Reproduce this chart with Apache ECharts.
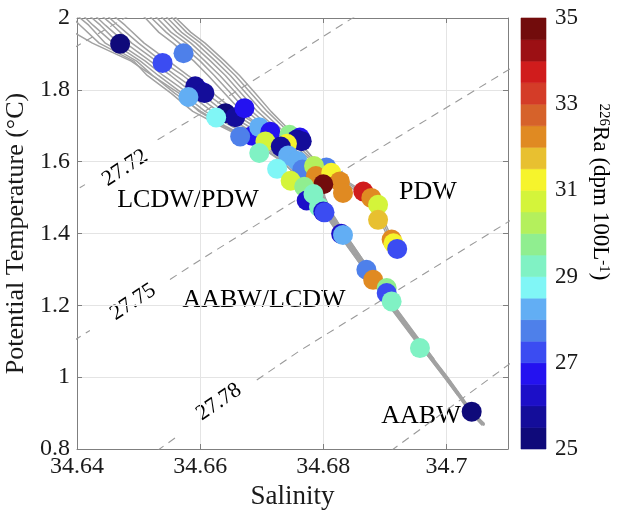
<!DOCTYPE html>
<html>
<head>
<meta charset="utf-8">
<script src="https://cdn.jsdelivr.net/npm/echarts@6/dist/echarts.min.js"></script>
<style>
  html, body { margin: 0; padding: 0; background: #fff; }
  #chart { width: 619px; height: 517px; }
</style>
</head>
<body>
<div id="chart"></div>
<script>
// ---- Bottle samples: salinity, potential temperature (°C), 226Ra (dpm 100L-1) ----
const salinity = [
  34.6470, 34.6573, 34.6539, 34.6600, 34.6592, 34.6607, 34.6581, 34.6641, 34.6657, 34.6626,
  34.6672, 34.6685, 34.6665, 34.6696, 34.6714, 34.6706, 34.6696, 34.6745, 34.6762, 34.6757,
  34.6765, 34.6741, 34.6731, 34.6743, 34.6758, 34.6725, 34.6766, 34.6747, 34.6805, 34.6785,
  34.6788, 34.6813, 34.6827, 34.6800, 34.6769, 34.6773, 34.6784, 34.6793, 34.6800, 34.6802,
  34.6832, 34.6865, 34.6878, 34.6889, 34.6889, 34.6911, 34.6914, 34.6920, 34.6829, 34.6832,
  34.6870, 34.6881, 34.6903, 34.6903, 34.6911, 34.6957, 34.7041
];
const theta = [
  1.928, 1.902, 1.875, 1.797, 1.810, 1.791, 1.780, 1.735, 1.724, 1.723,
  1.749, 1.672, 1.670, 1.696, 1.683, 1.656, 1.624, 1.675, 1.667, 1.662,
  1.657, 1.650, 1.642, 1.617, 1.602, 1.580, 1.578, 1.547, 1.584, 1.588,
  1.560, 1.569, 1.545, 1.537, 1.530, 1.492, 1.510, 1.474, 1.461, 1.459,
  1.513, 1.517, 1.499, 1.480, 1.438, 1.383, 1.373, 1.357, 1.399, 1.396,
  1.299, 1.271, 1.248, 1.234, 1.211, 1.081, 0.904
];
const radium = [
  25.3, 27.6, 27.4, 26.8, 25.5, 25.8, 28.0, 25.4, 25.6, 28.6,
  26.8, 26.7, 27.8, 28.3, 26.8, 30.6, 29.4, 29.6, 26.6, 25.7,
  25.9, 31.2, 25.5, 28.4, 28.2, 28.9, 27.8, 30.7, 27.6, 30.2,
  32.0, 31.3, 32.1, 34.8, 29.6, 26.3, 29.0, 29.3, 26.0, 27.3,
  32.3, 33.8, 32.3, 30.6, 31.8, 32.3, 31.0, 27.4, 26.0, 28.2,
  27.8, 32.3, 29.7, 27.1, 29.4, 29.3, 25.2
];

// ---- CTD profiles [salinity, theta] ----
const profileA0 = [[34.6380,1.975],[34.6425,1.93],[34.6488,1.88],[34.6522,1.84],[34.6566,1.79],[34.6598,1.74],[34.6637,1.70],[34.6692,1.65],[34.6734,1.60],[34.6763,1.55],[34.6787,1.50],[34.6804,1.45],[34.6824,1.40],[34.6866,1.30],[34.6906,1.20],[34.6950,1.10]];
const profileA1 = [[34.6374,2.03],[34.6405,1.98],[34.6436,1.93],[34.6492,1.88],[34.6514,1.84],[34.6553,1.79],[34.6588,1.74],[34.6632,1.70],[34.6690,1.65],[34.6733,1.60],[34.6764,1.55],[34.6788,1.50],[34.6805,1.45],[34.6825,1.40],[34.6866,1.30],[34.6907,1.20],[34.6951,1.10],[34.6997,1.00],[34.7039,0.90],[34.7058,0.866]];
const profileA2 = [[34.6384,2.03],[34.6419,1.98],[34.6446,1.93],[34.6497,1.88],[34.6523,1.84],[34.6559,1.79],[34.6601,1.74],[34.6640,1.70],[34.6697,1.65],[34.6738,1.60],[34.6767,1.55],[34.6790,1.50],[34.6807,1.45],[34.6826,1.40],[34.6868,1.30],[34.6908,1.20],[34.6952,1.10],[34.6996,1.00],[34.7018,0.95]];
const profileA3 = [[34.6396,2.03],[34.6426,1.98],[34.6459,1.93],[34.6503,1.88],[34.6532,1.84],[34.6571,1.79],[34.6608,1.74],[34.6650,1.70],[34.6702,1.65],[34.6742,1.60],[34.6770,1.55],[34.6792,1.50],[34.6808,1.45],[34.6828,1.40],[34.6869,1.30],[34.6910,1.20],[34.6953,1.10],[34.6999,1.00],[34.7040,0.90],[34.7059,0.866]];
const profileA4 = [[34.6404,2.03],[34.6438,1.98],[34.6467,1.93],[34.6511,1.88],[34.6540,1.84],[34.6581,1.79],[34.6619,1.74],[34.6658,1.70],[34.6709,1.65],[34.6746,1.60],[34.6773,1.55],[34.6794,1.50],[34.6810,1.45],[34.6829,1.40],[34.6870,1.30],[34.6911,1.20],[34.6954,1.10],[34.7000,1.00],[34.7042,0.90],[34.7061,0.866]];
const profileA5 = [[34.6415,2.03],[34.6446,1.98],[34.6479,1.93],[34.6519,1.88],[34.6552,1.84],[34.6589,1.79],[34.6630,1.74],[34.6668,1.70],[34.6716,1.65],[34.6750,1.60],[34.6776,1.55],[34.6796,1.50],[34.6812,1.45],[34.6831,1.40],[34.6872,1.30],[34.6912,1.20],[34.6955,1.10],[34.7001,1.00],[34.7043,0.90],[34.7062,0.866]];
const profileA6 = [[34.6424,2.03],[34.6458,1.98],[34.6489,1.93],[34.6529,1.88],[34.6560,1.84],[34.6601,1.79],[34.6638,1.74],[34.6677,1.70],[34.6722,1.65],[34.6755,1.60],[34.6779,1.55],[34.6798,1.50],[34.6813,1.45],[34.6832,1.40],[34.6873,1.30],[34.6913,1.20],[34.6956,1.10],[34.7000,1.00],[34.7030,0.93]];
const profileA7 = [[34.6434,2.03],[34.6466,1.98],[34.6500,1.93],[34.6537,1.88],[34.6572,1.84],[34.6609,1.79],[34.6650,1.74],[34.6686,1.70],[34.6729,1.65],[34.6759,1.60],[34.6782,1.55],[34.6800,1.50],[34.6815,1.45],[34.6834,1.40],[34.6874,1.30],[34.6914,1.20],[34.6957,1.10],[34.7002,1.00],[34.7044,0.90],[34.7062,0.87]];
const profileA8 = [[34.6443,2.03],[34.6478,1.98],[34.6509,1.93],[34.6549,1.88],[34.6580,1.84],[34.6621,1.79],[34.6658,1.74],[34.6695,1.70],[34.6735,1.65],[34.6763,1.60],[34.6785,1.55],[34.6802,1.50],[34.6817,1.45],[34.6835,1.40],[34.6875,1.30],[34.6914,1.20],[34.6956,1.10],[34.6979,1.05]];
const profileB1 = [[34.6498,2.02],[34.6511,2.0],[34.6533,1.96],[34.6556,1.93],[34.6590,1.88],[34.6613,1.84],[34.6640,1.79],[34.6667,1.74],[34.6696,1.70],[34.6734,1.65],[34.6768,1.60],[34.6784,1.55],[34.6797,1.50],[34.6812,1.45],[34.6831,1.40],[34.6871,1.30],[34.6911,1.20],[34.6933,1.15]];
const profileB2 = [[34.6509,2.02],[34.6521,2.0],[34.6545,1.96],[34.6566,1.93],[34.6600,1.88],[34.6623,1.84],[34.6650,1.79],[34.6676,1.74],[34.6704,1.70],[34.6739,1.65],[34.6772,1.60],[34.6787,1.55],[34.6799,1.50],[34.6813,1.45],[34.6833,1.40],[34.6873,1.30],[34.6913,1.20],[34.6956,1.10],[34.7001,1.00],[34.7043,0.90],[34.7061,0.866]];
const profileB3 = [[34.6518,2.02],[34.6530,2.0],[34.6553,1.96],[34.6577,1.93],[34.6608,1.88],[34.6632,1.84],[34.6659,1.79],[34.6684,1.74],[34.6711,1.70],[34.6744,1.65],[34.6776,1.60],[34.6789,1.55],[34.6800,1.50],[34.6814,1.45],[34.6833,1.40],[34.6873,1.30],[34.6892,1.25]];
const profileB4 = [[34.6527,2.02],[34.6539,2.0],[34.6562,1.96],[34.6585,1.93],[34.6617,1.88],[34.6641,1.84],[34.6667,1.79],[34.6693,1.74],[34.6719,1.70],[34.6750,1.65],[34.6782,1.60],[34.6806,1.57],[34.6844,1.53],[34.6869,1.50],[34.6889,1.45],[34.6902,1.40],[34.6916,1.36]];
const profileB5 = [[34.6535,2.02],[34.6547,2.0],[34.6570,1.96],[34.6593,1.93],[34.6625,1.88],[34.6649,1.84],[34.6675,1.79],[34.6701,1.74],[34.6726,1.70],[34.6755,1.65],[34.6786,1.60],[34.6811,1.57],[34.6849,1.53],[34.6873,1.50],[34.6892,1.45],[34.6905,1.40],[34.6921,1.35]];
const profileB6 = [[34.6543,2.02],[34.6555,2.0],[34.6578,1.96],[34.6601,1.93],[34.6633,1.88],[34.6657,1.84],[34.6683,1.79],[34.6709,1.74],[34.6733,1.70],[34.6761,1.65],[34.6790,1.60],[34.6815,1.57],[34.6853,1.53],[34.6877,1.50],[34.6895,1.45],[34.6908,1.40],[34.6918,1.37]];
const profileB7 = [[34.6549,2.02],[34.6561,2.0],[34.6585,1.96],[34.6608,1.93],[34.6640,1.88],[34.6664,1.84],[34.6690,1.79],[34.6715,1.74],[34.6738,1.70],[34.6764,1.65],[34.6788,1.60],[34.6796,1.55],[34.6803,1.50],[34.6816,1.45],[34.6835,1.40],[34.6875,1.30],[34.6915,1.20],[34.6958,1.10],[34.6980,1.05]];
const profiles = [profileA0, profileA1, profileA2, profileA3, profileA4, profileA5, profileA6, profileA7, profileA8,
                  profileB1, profileB2, profileB3, profileB4, profileB5, profileB6, profileB7];

// ---- Isopycnals (sigma-theta), null marks the break left for the inline label ----
const isoUpper = [[34.6395,1.917],[34.6483,2.005]];
const iso2772 = [[34.6385,1.507],[34.6413,1.536], null, [34.6531,1.661],[34.6598,1.7303],[34.6855,2.008]];
const iso2775 = [[34.6395,1.102],[34.6421,1.130], null, [34.6551,1.272],[34.6604,1.3305],[34.6847,1.5908],[34.7105,1.860]];
const iso2778 = [[34.6530,0.795],[34.6567,0.840], null, [34.6692,0.992],[34.6762,1.0739],[34.7099,1.431],[34.7110,1.443]];
const isoLower = [[34.6910,0.795],[34.7105,1.040]];
const isopycnals = [isoUpper, iso2772, iso2775, iso2778, isoLower];

// ---- Colour scale for 226Ra ----
const raMin = 25, raMax = 35, raStep = 0.5;
const raColors = [
  '#0f0a7a', '#140d9a', '#1c0fc8', '#2412f0', '#3b4cf2', '#4e80ea', '#62aef4', '#80f6f6', '#80f2c4', '#90ee90',
  '#b4f05c', '#d4f43a', '#f6f42c', '#e8c030', '#e08a22', '#d6622a', '#d43c28', '#d01c1c', '#9c1014', '#720c0c'
];
const raTicks = [25, 27, 29, 31, 33, 35];

const FONT = "Liberation Serif";
const AXIS_GRAY = '#7f7f7f';
const TEXT = '#1a1a1a';

function raColor(v) {
  let k = Math.floor((v - raMin) / raStep);
  k = Math.max(0, Math.min(raColors.length - 1, k));
  return raColors[k];
}

function splitSegments(arr) {
  const segs = [];
  let cur = [];
  arr.forEach(p => {
    if (p === null) { if (cur.length) segs.push(cur); cur = []; }
    else cur.push(p);
  });
  if (cur.length) segs.push(cur);
  return segs;
}

const series = [];

isopycnals.forEach(iso => {
  splitSegments(iso).forEach(seg => {
    series.push({
      type: 'line', xAxisIndex: 0, yAxisIndex: 0, data: seg,
      showSymbol: false, symbol: 'none', silent: true, clip: true, z: 1,
      lineStyle: { color: '#9a9a9a', width: 1.1, type: [8, 6] }
    });
  });
});

profiles.forEach(pr => {
  series.push({
    type: 'line', xAxisIndex: 0, yAxisIndex: 0, data: pr,
    showSymbol: false, symbol: 'none', silent: true, clip: true, z: 2,
    lineStyle: { color: '#a2a2a2', width: 1.5 }
  });
});

series.push({
  type: 'scatter', xAxisIndex: 0, yAxisIndex: 0, z: 3,
  symbolSize: 20,
  data: salinity.map((s, i) => [s, theta[i], radium[i]]),
  itemStyle: { color: p => raColor(p.value[2]), opacity: 1 }
});

// colour bar as stacked cells on its own grid
series.push({
  type: 'custom', xAxisIndex: 2, yAxisIndex: 2, silent: true,
  data: raColors.map((c, i) => [0, raMin + i * raStep, raMin + (i + 1) * raStep, i]),
  encode: { x: 0, y: [1, 2] },
  renderItem: function (params, api) {
    const p0 = api.coord([0, api.value(1)]);
    const p1 = api.coord([1, api.value(2)]);
    const col = raColors[api.value(3)];
    return {
      type: 'rect',
      shape: { x: p0[0], y: p1[1], width: p1[0] - p0[0], height: p0[1] - p1[1] },
      style: { fill: col, stroke: col, lineWidth: 0.6 }
    };
  }
});

const labelStyle = { fontFamily: FONT, fontSize: 24, color: TEXT };

const option = {
  animation: false,
  backgroundColor: '#ffffff',
  grid: [
    { left: 77, top: 18, width: 431, height: 431, containLabel: false, outerBoundsMode: 'none' },
    { left: 521, top: 18, width: 25, height: 431, containLabel: false, outerBoundsMode: 'none' }
  ],
  xAxis: [
    {
      type: 'value', gridIndex: 0, position: 'bottom', min: 34.64, max: 34.71, interval: 0.02,
      name: 'Salinity', nameLocation: 'middle', nameGap: 31,
      nameTextStyle: { fontFamily: FONT, fontSize: 27, color: TEXT },
      axisLine: { show: true, onZero: false, lineStyle: { color: AXIS_GRAY, width: 1 } },
      axisTick: { show: true, inside: true, length: 5, lineStyle: { color: AXIS_GRAY } },
      axisLabel: Object.assign({ margin: 6, showMaxLabel: false,
        formatter: v => String(Math.round(v * 100) / 100) }, labelStyle),
      splitLine: { show: true, lineStyle: { color: '#e4e4e4', width: 1 } }
    },
    {
      type: 'value', gridIndex: 0, position: 'top', min: 34.64, max: 34.71, interval: 0.02,
      axisLine: { show: true, onZero: false, lineStyle: { color: AXIS_GRAY, width: 1 } },
      axisTick: { show: true, inside: true, length: 5, lineStyle: { color: AXIS_GRAY } },
      axisLabel: { show: false }, splitLine: { show: false }
    },
    {
      type: 'value', gridIndex: 1, min: 0, max: 1, show: false
    }
  ],
  yAxis: [
    {
      type: 'value', gridIndex: 0, position: 'left', min: 0.8, max: 2, interval: 0.2,
      name: 'Potential Temperature (°C)', nameLocation: 'middle', nameGap: 35, nameRotate: 90,
      nameTextStyle: { fontFamily: FONT, fontSize: 26, color: TEXT },
      axisLine: { show: true, onZero: false, lineStyle: { color: AXIS_GRAY, width: 1 } },
      axisTick: { show: true, inside: true, length: 5, lineStyle: { color: AXIS_GRAY } },
      axisLabel: Object.assign({ margin: 7, formatter: v => String(Math.round(v * 10) / 10) }, labelStyle),
      splitLine: { show: true, lineStyle: { color: '#e4e4e4', width: 1 } }
    },
    {
      type: 'value', gridIndex: 0, position: 'right', min: 0.8, max: 2, interval: 0.2,
      axisLine: { show: true, onZero: false, lineStyle: { color: AXIS_GRAY, width: 1 } },
      axisTick: { show: true, inside: true, length: 5, lineStyle: { color: AXIS_GRAY } },
      axisLabel: { show: false }, splitLine: { show: false }
    },
    {
      type: 'value', gridIndex: 1, position: 'right', min: raMin, max: raMax, interval: 2,
      axisLine: { show: false }, axisTick: { show: false }, splitLine: { show: false },
      axisLabel: { margin: 9, fontFamily: FONT, fontSize: 23, color: TEXT,
        formatter: v => (raTicks.indexOf(Math.round(v)) >= 0 ? String(Math.round(v)) : '') }
    }
  ],
  graphic: [
    { type: 'text', x: 188, y: 200, silent: true,
      style: { text: 'LCDW/PDW', fontFamily: FONT, fontSize: 26, fill: '#000', align: 'center', verticalAlign: 'middle' } },
    { type: 'text', x: 428, y: 192, silent: true,
      style: { text: 'PDW', fontFamily: FONT, fontSize: 26, fill: '#000', align: 'center', verticalAlign: 'middle' } },
    { type: 'text', x: 264, y: 300, silent: true,
      style: { text: 'AABW/LCDW', fontFamily: FONT, fontSize: 26, fill: '#000', align: 'center', verticalAlign: 'middle' } },
    { type: 'text', x: 421, y: 416, silent: true,
      style: { text: 'AABW', fontFamily: FONT, fontSize: 26, fill: '#000', align: 'center', verticalAlign: 'middle' } },
    { type: 'text', x: 125, y: 168, rotation: 0.58, silent: true,
      style: { text: '27.72', fontFamily: FONT, fontSize: 22, fill: '#000', align: 'center', verticalAlign: 'middle' } },
    { type: 'text', x: 133, y: 302, rotation: 0.58, silent: true,
      style: { text: '27.75', fontFamily: FONT, fontSize: 22, fill: '#000', align: 'center', verticalAlign: 'middle' } },
    { type: 'text', x: 219, y: 402, rotation: 0.6, silent: true,
      style: { text: '27.78', fontFamily: FONT, fontSize: 22, fill: '#000', align: 'center', verticalAlign: 'middle' } },
    { type: 'text', x: 600, y: 192, rotation: -Math.PI / 2, silent: true,
      style: {
        text: '{s|226}Ra (dpm 100L{s|-1})',
        fontFamily: FONT, fontSize: 23, fill: '#000', align: 'center', verticalAlign: 'middle',
        rich: {
          s: { fontFamily: FONT, fontSize: 15, verticalAlign: 'top', fill: '#000' }
        }
      } }
  ],
  series: series
};

const chart = echarts.init(document.getElementById('chart'), null, { renderer: 'canvas' });
chart.setOption(option);
</script>
</body>
</html>
